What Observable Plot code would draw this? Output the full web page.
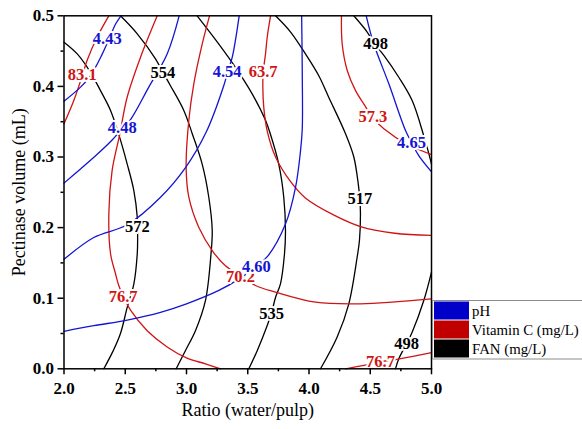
<!DOCTYPE html>
<html><head><meta charset="utf-8">
<script src="https://cdn.jsdelivr.net/npm/d3@7"></script>
<script src="https://cdn.jsdelivr.net/npm/@observablehq/plot@0.6"></script>
<style>body{margin:0;background:#fff} #chart{width:582px;height:429px}</style>
</head><body><div id="chart"></div>
<script>
// ---- data: contour lines (x = ratio, y = pectinase volume) ----
const ph443 = [[2.0,0.379],[2.135,0.399],[2.216,0.415],[2.31,0.445],[2.37,0.468],[2.42,0.488],[2.465,0.5]];
const ph448 = [[2.0,0.263],[2.135,0.283],[2.26,0.302],[2.393,0.324],[2.475,0.34],[2.543,0.353],[2.692,0.399],[2.842,0.446],[2.94,0.5]];
const ph454 = [[2.0,0.155],[2.243,0.186],[2.516,0.204],[2.788,0.243],[2.992,0.285],[3.16,0.335],[3.304,0.401],[3.335,0.42],[3.373,0.441],[3.43,0.5]];
const ph460 = [[2.0,0.053],[2.243,0.061],[2.516,0.069],[2.788,0.08],[3.0,0.092],[3.264,0.111],[3.427,0.127],[3.56,0.144],[3.665,0.16],[3.808,0.205],[3.89,0.257],[3.931,0.309],[3.945,0.34],[3.945,0.42],[3.94,0.5]];
const ph465 = [[4.467,0.5],[4.529,0.46],[4.651,0.404],[4.788,0.3375],[4.842,0.319],[4.896,0.302],[5.0,0.279]];

const vc831 = [[2.0,0.347],[2.08,0.38],[2.149,0.415],[2.189,0.437],[2.271,0.47],[2.366,0.5]];
const vc767a = [[2.761,0.5],[2.624,0.441],[2.516,0.385],[2.455,0.332],[2.393,0.281],[2.366,0.22],[2.38,0.163],[2.42,0.135],[2.447,0.118],[2.488,0.101],[2.543,0.083],[2.679,0.054],[2.842,0.031],[3.0,0.0155],[3.155,0.007],[3.278,0.0]];
const vc702 = [[3.188,0.5],[3.128,0.46],[3.06,0.404],[3.019,0.352],[2.997,0.286],[3.019,0.243],[3.1,0.2006],[3.22,0.165],[3.318,0.146],[3.441,0.132],[3.563,0.118],[3.727,0.1085],[4.053,0.0943],[4.42,0.092],[5.0,0.099]];
const vc637 = [[3.686,0.5],[3.659,0.47],[3.645,0.446],[3.626,0.42],[3.623,0.399],[3.631,0.37],[3.66,0.336],[3.727,0.3],[3.85,0.265],[3.97,0.242],[4.2,0.218],[4.434,0.2006],[4.7,0.192],[5.0,0.189]];
const vc573 = [[4.265,0.5],[4.271,0.46],[4.312,0.4225],[4.38,0.394],[4.455,0.373],[4.516,0.356],[4.611,0.34],[4.8,0.318],[5.0,0.3035]];
const vc767b = [[4.3,0.0],[4.45,0.005],[4.6,0.0105],[4.75,0.0145],[5.0,0.023]];

const fan572 = [[2.0,0.4626],[2.108,0.446],[2.216,0.42],[2.298,0.394],[2.38,0.366],[2.447,0.332],[2.516,0.29],[2.57,0.2525],[2.598,0.2147],[2.601,0.19],[2.598,0.163],[2.57,0.12],[2.516,0.087],[2.461,0.05],[2.4,0.025],[2.325,0.0]];
const fan554 = [[2.461,0.5],[2.598,0.4745],[2.747,0.439],[2.807,0.42],[2.869,0.401],[2.978,0.366],[3.047,0.333],[3.128,0.29],[3.182,0.243],[3.21,0.196],[3.2,0.163],[3.155,0.097],[3.073,0.054],[2.992,0.026],[2.916,0.0]];
const fan535 = [[3.087,0.5],[3.264,0.46],[3.4,0.427],[3.536,0.3895],[3.645,0.352],[3.68,0.335],[3.753,0.29],[3.794,0.243],[3.808,0.196],[3.8,0.163],[3.767,0.1204],[3.727,0.1014],[3.694,0.079],[3.659,0.0613],[3.578,0.026],[3.509,0.0]];
const fan517 = [[3.727,0.5],[3.85,0.477],[3.971,0.446],[4.08,0.415],[4.16,0.385],[4.298,0.333],[4.366,0.3],[4.402,0.262],[4.415,0.241],[4.42,0.22],[4.412,0.182],[4.393,0.158],[4.325,0.092],[4.23,0.045],[4.094,0.0]];
const fan498a = [[4.366,0.5],[4.475,0.477],[4.537,0.46],[4.611,0.444],[4.733,0.413],[4.842,0.38],[4.937,0.33],[4.97,0.31],[5.0,0.29]];
const fan498b = [[5.0,0.137],[4.937,0.0967],[4.842,0.0518],[4.796,0.0354],[4.733,0.0142],[4.706,0.0]];

// contour labels: [x, y, text]
const phLabels = [[2.353,0.467,"4.43"],[2.475,0.342,"4.48"],[3.332,0.4215,"4.54"],[3.57,0.145,"4.60"],[4.837,0.3196,"4.65"]];
const vcLabels = [[2.149,0.417,"83.1"],[2.483,0.1014,"76.7"],[3.441,0.13,"70.2"],[3.626,0.4215,"63.7"],[4.521,0.357,"57.3"],[4.584,0.0103,"76.7"]];
const fanLabels = [[2.598,0.2006,"572"],[2.807,0.42,"554"],[3.694,0.078,"535"],[4.415,0.241,"517"],[4.543,0.46,"498"],[4.796,0.0354,"498"]];

const xTicks = [2.0,2.5,3.0,3.5,4.0,4.5,5.0];
const xMinor = [2.25,2.75,3.25,3.75,4.25,4.75];
const yTicks = [0.0,0.1,0.2,0.3,0.4,0.5];
const yMinor = [0.05,0.15,0.25,0.35,0.45];
const legendNames = ["pH","Vitamin C (mg/L)","FAN (mg/L)"];
const xTitle = "Ratio (water/pulp)";
const yTitle = "Pectinase volume (mL)";

// ---- build tables ----
const BLUE = "#1414d2", RED = "#d01414", BLACK = "#000000";
function rows(list){ const out=[]; list.forEach((pts,i)=>pts.forEach(([x,y])=>out.push({s:i,x,y}))); return out; }
const phRows = rows([ph443,ph448,ph454,ph460,ph465]);
const vcRows = rows([vc831,vc767a,vc702,vc637,vc573,vc767b]);
const fanRows = rows([fan572,fan554,fan535,fan517,fan498a,fan498b]);
const lab = a => a.map(([x,y,t])=>({x,y,t}));

const SERIF = "'Liberation Serif','Times New Roman',serif";
const lineOpts = c => ({x:"x", y:"y", z:"s", stroke:c, strokeWidth:1.3, curve:"catmull-rom"});
const textOpts = c => ({x:"x", y:"y", text:"t", fill:c, stroke:"white", strokeWidth:4, fontWeight:"bold", fontSize:16.5});

const plot = Plot.plot({
  width:582, height:429,
  marginLeft:63.5, marginRight:151, marginTop:15.3, marginBottom:60.7,
  x:{domain:[2,5], label:null},
  y:{domain:[0,0.5], label:null},
  style:{fontFamily:SERIF, background:"white", color:"black"},
  marks:[
    Plot.line(fanRows, lineOpts(BLACK)),
    Plot.line(vcRows, lineOpts(RED)),
    Plot.line(phRows, lineOpts(BLUE)),
    Plot.text(lab(fanLabels), textOpts(BLACK)),
    Plot.text(lab(vcLabels), textOpts(RED)),
    Plot.text(lab(phLabels), textOpts(BLUE)),
    Plot.axisX(xTicks, {tickSize:6, tickPadding:7, strokeWidth:1.5, fontWeight:"bold", fontSize:17, tickFormat:d=>d.toFixed(1), label:null}),
    Plot.axisX(xMinor, {tickSize:3, strokeWidth:1.5, tickFormat:()=>"", label:null}),
    Plot.axisY(yTicks, {tickSize:6, tickPadding:4, strokeWidth:1.5, fontWeight:"bold", fontSize:17, tickFormat:d=>d.toFixed(1), label:null}),
    Plot.axisY(yMinor, {tickSize:3, strokeWidth:1.5, tickFormat:()=>"", label:null}),
    Plot.frame({stroke:"black", strokeWidth:1.5}),
    Plot.text([xTitle], {frameAnchor:"bottom", dy:47, fontSize:18, fill:"black"}),
    Plot.text([yTitle], {frameAnchor:"left", dx:-45, rotate:-90, textAnchor:"middle", fontSize:18, fill:"black"})
  ]
});
document.getElementById("chart").appendChild(plot);

// ---- legend (drawn into the same SVG) ----
const svg = d3.select(plot);
const lg = svg.append("g").attr("font-family",SERIF).attr("font-size",14.8).attr("text-anchor","start");
lg.append("rect").attr("x",432.5).attr("y",300.5).attr("width",160).attr("height",58.5)
  .attr("fill","white").attr("stroke","#8c8c8c").attr("stroke-width",1);
const swatch = ["#0000c8","#c00000","#000000"];
legendNames.forEach((name,i)=>{
  const y0 = 301.5 + i*19;
  lg.append("rect").attr("x",434).attr("y",y0).attr("width",35).attr("height",18).attr("fill",swatch[i]);
  lg.append("text").attr("x",472).attr("y",y0+14).attr("fill","black").attr("text-anchor","start").text(name);
});
</script>
</body></html>
